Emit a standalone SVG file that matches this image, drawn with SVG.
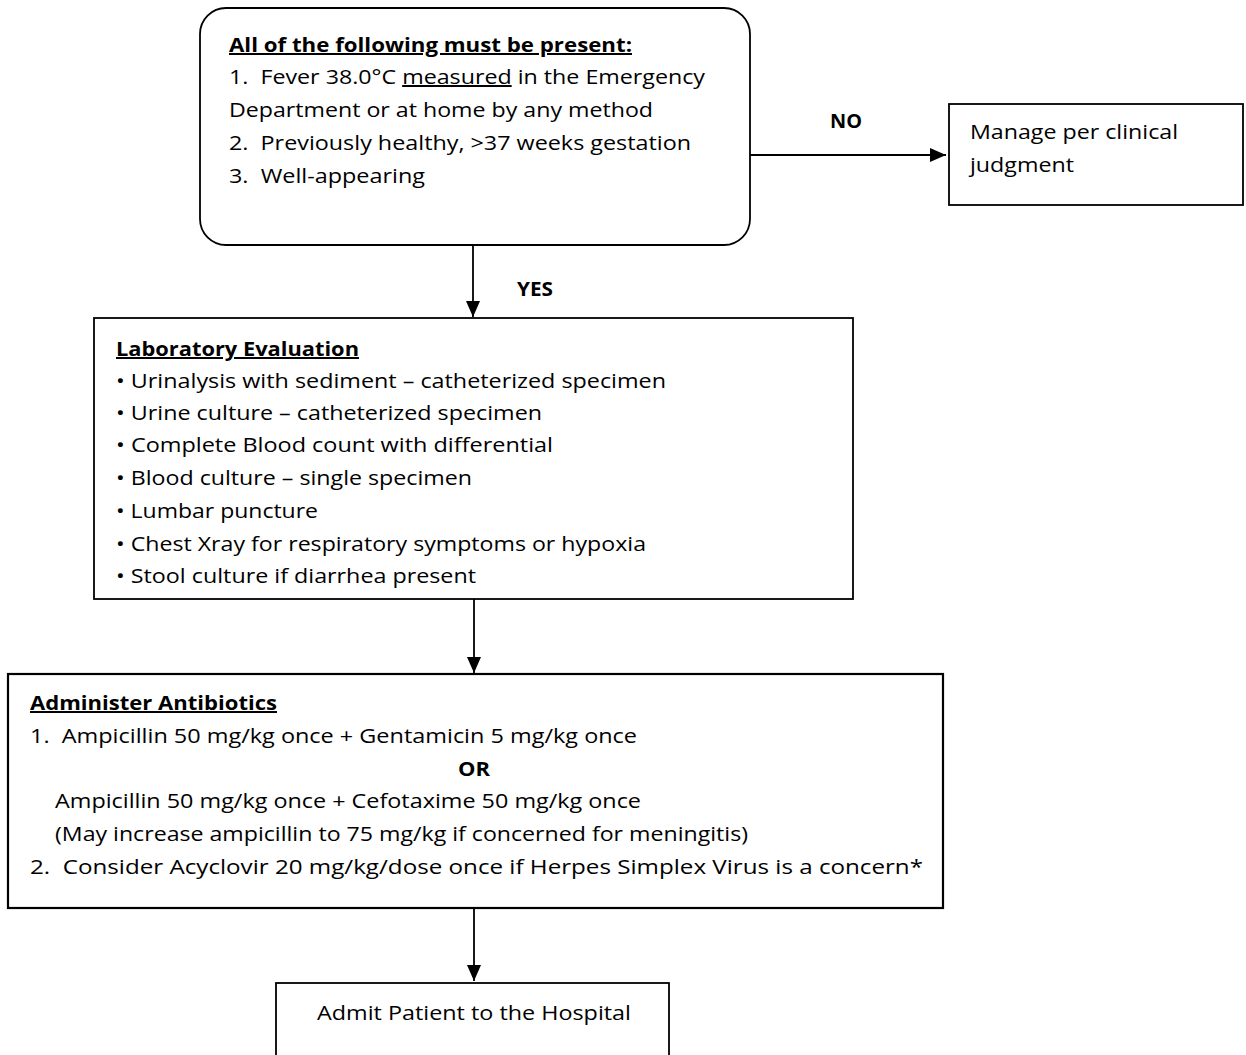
<svg xmlns="http://www.w3.org/2000/svg" width="1246" height="1055" viewBox="0 0 1246 1055">
<style>
  .box { fill: #fff; stroke: #000; stroke-width: 1.8; }
  .t { font-family: "Open Sans", "Liberation Sans", sans-serif; font-size: 20px; fill: #000; white-space: pre; }
  .b { font-weight: bold; }
  .u { text-decoration: underline; }
  .conn { stroke: #000; stroke-width: 1.8; fill: none; marker-end: url(#arrow); }
</style>
<defs>
  <marker id="arrow" markerUnits="userSpaceOnUse" markerWidth="16" markerHeight="16" viewBox="0 0 16 16" refX="16" refY="8" orient="auto">
    <path d="M0,1 L16,8 L0,15 Z" fill="#000"/>
  </marker>
</defs>
<rect width="1246" height="1055" fill="#fff"/>

<g id="connectors">
  <line class="conn" x1="750" y1="155" x2="946" y2="155"/>
  <line class="conn" x1="473" y1="245" x2="473" y2="317"/>
  <line class="conn" x1="474" y1="599" x2="474" y2="673"/>
  <line class="conn" x1="474" y1="908" x2="474" y2="981"/>
  <text class="t b" x="830" y="128" textLength="32" lengthAdjust="spacingAndGlyphs">NO</text>
  <text class="t b" x="517" y="296" textLength="36" lengthAdjust="spacingAndGlyphs">YES</text>
</g>

<g id="criteria">
  <rect class="box" x="200" y="8" width="550" height="237" rx="26" ry="26"/>
  <text class="t b u" x="229" y="52" textLength="403" lengthAdjust="spacingAndGlyphs">All of the following must be present:</text>
  <text class="t" x="229" y="84" textLength="476" lengthAdjust="spacingAndGlyphs" xml:space="preserve">1.  Fever 38.0°C <tspan class="u">measured</tspan> in the Emergency</text>
  <text class="t" x="229" y="117" textLength="424" lengthAdjust="spacingAndGlyphs">Department or at home by any method</text>
  <text class="t" x="229" y="150" textLength="462" lengthAdjust="spacingAndGlyphs" xml:space="preserve">2.  Previously healthy, &gt;37 weeks gestation</text>
  <text class="t" x="229" y="183" textLength="196" lengthAdjust="spacingAndGlyphs" xml:space="preserve">3.  Well-appearing</text>
</g>

<g id="manage">
  <rect class="box" x="949" y="104" width="294" height="101"/>
  <text class="t" x="970" y="139" textLength="208" lengthAdjust="spacingAndGlyphs">Manage per clinical</text>
  <text class="t" x="970" y="172" textLength="104" lengthAdjust="spacingAndGlyphs">judgment</text>
</g>

<g id="lab">
  <rect class="box" x="94" y="318" width="759" height="281"/>
  <text class="t b u" x="116" y="356" textLength="243" lengthAdjust="spacingAndGlyphs">Laboratory Evaluation</text>
  <text class="t" x="116" y="388" textLength="550" lengthAdjust="spacingAndGlyphs">• Urinalysis with sediment – catheterized specimen</text>
  <text class="t" x="116" y="420" textLength="426" lengthAdjust="spacingAndGlyphs">• Urine culture – catheterized specimen</text>
  <text class="t" x="116" y="452" textLength="437" lengthAdjust="spacingAndGlyphs">• Complete Blood count with differential</text>
  <text class="t" x="116" y="485" textLength="356" lengthAdjust="spacingAndGlyphs">• Blood culture – single specimen</text>
  <text class="t" x="116" y="518" textLength="202" lengthAdjust="spacingAndGlyphs">• Lumbar puncture</text>
  <text class="t" x="116" y="551" textLength="530" lengthAdjust="spacingAndGlyphs">• Chest Xray for respiratory symptoms or hypoxia</text>
  <text class="t" x="116" y="583" textLength="360" lengthAdjust="spacingAndGlyphs">• Stool culture if diarrhea present</text>
</g>

<g id="antibiotics">
  <rect class="box" x="8" y="674" width="935" height="234" style="stroke-width:2.2"/>
  <text class="t b u" x="30" y="710" textLength="247" lengthAdjust="spacingAndGlyphs">Administer Antibiotics</text>
  <text class="t" x="30" y="743" textLength="607" lengthAdjust="spacingAndGlyphs" xml:space="preserve">1.  Ampicillin 50 mg/kg once + Gentamicin 5 mg/kg once</text>
  <text class="t b" x="458" y="776" textLength="32" lengthAdjust="spacingAndGlyphs">OR</text>
  <text class="t" x="55" y="808" textLength="586" lengthAdjust="spacingAndGlyphs">Ampicillin 50 mg/kg once + Cefotaxime 50 mg/kg once</text>
  <text class="t" x="55" y="841" textLength="693" lengthAdjust="spacingAndGlyphs">(May increase ampicillin to 75 mg/kg if concerned for meningitis)</text>
  <text class="t" x="30" y="874" textLength="893" lengthAdjust="spacingAndGlyphs" xml:space="preserve">2.  Consider Acyclovir 20 mg/kg/dose once if Herpes Simplex Virus is a concern*</text>
</g>

<g id="admit">
  <rect class="box" x="276" y="983" width="393" height="90"/>
  <text class="t" x="317" y="1020" textLength="314" lengthAdjust="spacingAndGlyphs">Admit Patient to the Hospital</text>
</g>
</svg>
